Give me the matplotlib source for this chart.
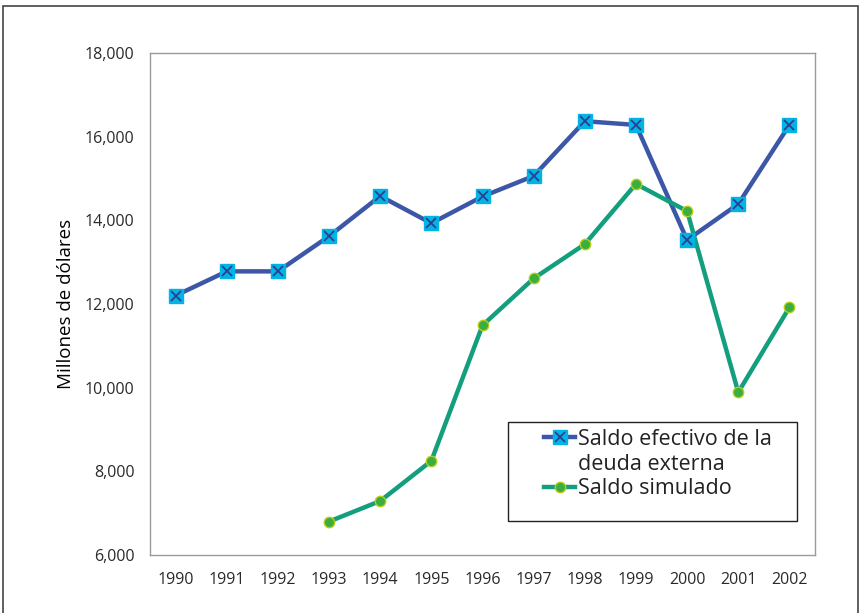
import matplotlib
matplotlib.use("Agg")
import matplotlib.pyplot as plt
from matplotlib.lines import Line2D
from matplotlib.patches import Rectangle
from matplotlib.legend_handler import HandlerTuple
from matplotlib.ticker import FuncFormatter

plt.rcParams['font.family'] = ['Open Sans', 'DejaVu Sans']

years = [1990, 1991, 1992, 1993, 1994, 1995, 1996, 1997, 1998, 1999, 2000, 2001, 2002]
saldo_efectivo = [12200, 12780, 12780, 13620, 14580, 13930, 14570, 15060, 16370, 16280, 13530, 14390, 16280]
years_sim = [1993, 1994, 1995, 1996, 1997, 1998, 1999, 2000, 2001, 2002]
saldo_simulado = [6800, 7290, 8250, 11490, 12610, 13430, 14870, 14220, 9890, 11920]
y_ticks = [6000, 8000, 10000, 12000, 14000, 16000, 18000]

W, H = 862, 613
fig = plt.figure(figsize=(W / 100, H / 100), dpi=100)
ax = fig.add_axes([150 / W, 1 - 555 / H, 665 / W, 502 / H])

blue_line = '#3D57A8'
cyan = '#00B4E6'
dark_x = '#2E3F8F'
teal = '#139E7E'
green = '#3AAE3F'
yellow_edge = '#B8CC1A'

# Effective external debt balance
l1, = ax.plot(years, saldo_efectivo, color=blue_line, lw=3.2, zorder=3)
m1, = ax.plot(years, saldo_efectivo, ls='none', marker='s', ms=9.5,
              mfc=cyan, mec=cyan, zorder=4)
x1, = ax.plot(years, saldo_efectivo, ls='none', marker='x', ms=7.5,
              mec=dark_x, mew=1.3, zorder=5)

# Simulated balance
l2, = ax.plot(years_sim, saldo_simulado, color=teal, lw=3.2, marker='o',
              ms=7.5, mfc=green, mec=yellow_edge, mew=1.0, zorder=3)

ax.set_xlim(1989.5, 2002.5)
ax.set_ylim(6000, 18000)
ax.set_xticks(years)
ax.set_xticklabels([str(y) for y in years])
ax.set_yticks(y_ticks)
ax.yaxis.set_major_formatter(FuncFormatter(lambda v, p: f"{int(v):,}"))
ax.tick_params(axis='both', length=0, labelsize=11.5, colors='#2a2a2a')
ax.tick_params(axis='x', pad=12)
ax.tick_params(axis='y', pad=11)
for s in ax.spines.values():
    s.set_color('#9a9a9a')
    s.set_linewidth(1.0)

ax.set_ylabel('Millones de dólares', fontsize=13.5, color='black', labelpad=7)

# Legend box
fig.patches.append(Rectangle((508 / W, 1 - 521 / H), 289 / W, 99 / H,
                             transform=fig.transFigure, fill=False,
                             edgecolor='#222222', lw=1.0, zorder=10))
blank = Line2D([], [], ls='none', marker='none')
leg = fig.legend([(l1, m1, x1), blank, l2],
                 ['Saldo efectivo de la', 'deuda externa', 'Saldo simulado'],
                 handler_map={tuple: HandlerTuple(ndivide=1, pad=0)},
                 loc='upper left', bbox_to_anchor=(544 / W, 1 - 429 / H),
                 frameon=False, fontsize=15.5, handlelength=1.45,
                 handletextpad=0.15, labelspacing=0.17, borderpad=0,
                 borderaxespad=0)
for t in leg.get_texts():
    t.set_color('#222222')

# Outer frame
fig.patches.append(Rectangle((3 / W, -0.02), 855 / W, 1.02 - 6 / H,
                             transform=fig.transFigure, fill=False,
                             edgecolor='#444444', lw=1.2))

fig.savefig('out.png', dpi=100)
